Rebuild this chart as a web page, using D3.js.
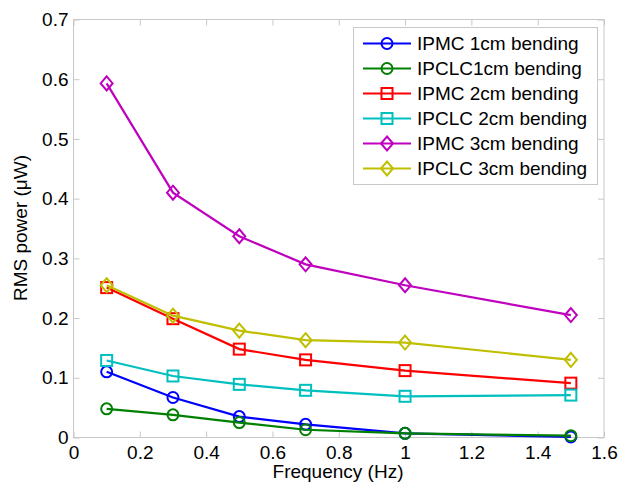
<!DOCTYPE html>
<html>
<meta charset="UTF-8">

<head>
  <script src="https://cdn.jsdelivr.net/npm/d3@7/dist/d3.min.js"></script>
  <style>
    body { margin: 0; background: #fff; }
    text { font-family: Arial, "Liberation Sans", sans-serif; fill: #000; }
  </style>
</head>

<body>
  <div id="viz">
    <svg style="width:625px;height:483px;"></svg>
  </div>

  <script type="text/javascript">
    const frequency = [0.1, 0.3, 0.5, 0.7, 1, 1.5]

    const seriesNames = ["IPMC 1cm bending", "IPCLC1cm bending", "IPMC 2cm bending",
      "IPCLC 2cm bending", "IPMC 3cm bending", "IPCLC 3cm bending"]

    const ipmc1 = [0.110, 0.067, 0.035, 0.022, 0.007, 0.001]
    const ipclc1 = [0.048, 0.038, 0.025, 0.013, 0.007, 0.003]
    const ipmc2 = [0.251, 0.199, 0.148, 0.130, 0.112, 0.091]
    const ipclc2 = [0.129, 0.103, 0.089, 0.079, 0.069, 0.071]
    const ipmc3 = [0.593, 0.410, 0.337, 0.290, 0.255, 0.205]
    const ipclc3 = [0.255, 0.204, 0.179, 0.163, 0.159, 0.130]

    const xTicks = [0, 0.2, 0.4, 0.6, 0.8, 1, 1.2, 1.4, 1.6]
    const yTicks = [0, 0.1, 0.2, 0.3, 0.4, 0.5, 0.6, 0.7]

    const colors = ["#0000ff", "#008000", "#ff0000", "#00bfbf", "#bf00bf", "#bfbf00"]
    const markers = ["circle", "circle", "square", "square", "diamond", "diamond"]

    const series = [ipmc1, ipclc1, ipmc2, ipclc2, ipmc3, ipclc3].map((vals, i) => ({
      name: seriesNames[i],
      color: colors[i],
      marker: markers[i],
      values: vals.map((v, j) => ({ x: frequency[j], y: v }))
    }))

    const plotL = 73.5, plotR = 604, plotT = 19.5, plotB = 437.5

    const x = d3.scaleLinear().domain([0, 1.6]).range([plotL, plotR])
    const y = d3.scaleLinear().domain([0, 0.7]).range([plotB, plotT])

    const svg = d3.select("svg")

    // box
    svg.append("rect")
      .attr("x", plotL).attr("y", plotT)
      .attr("width", plotR - plotL).attr("height", plotB - plotT)
      .style("fill", "white")
      .style("stroke", "#c8c8c8")
      .style("stroke-width", 1)

    const tickLen = 6
    const fontSize = 19

    const xAxis = svg.append("g").attr("transform", `translate(0,${plotB})`)
      .call(d3.axisBottom(x).tickValues(xTicks).tickSizeInner(-tickLen).tickSizeOuter(0)
        .tickPadding(8).tickFormat(d3.format("")))
    const xAxisTop = svg.append("g").attr("transform", `translate(0,${plotT})`)
      .call(d3.axisTop(x).tickValues(xTicks).tickSizeInner(-tickLen).tickSizeOuter(0)
        .tickFormat(""))
    const yAxis = svg.append("g").attr("transform", `translate(${plotL},0)`)
      .call(d3.axisLeft(y).tickValues(yTicks).tickSizeInner(-tickLen).tickSizeOuter(0)
        .tickPadding(5).tickFormat(d3.format("")))
    const yAxisRight = svg.append("g").attr("transform", `translate(${plotR},0)`)
      .call(d3.axisRight(y).tickValues(yTicks).tickSizeInner(-tickLen).tickSizeOuter(0)
        .tickFormat(""))

    for (const g of [xAxis, xAxisTop, yAxis, yAxisRight]) {
      g.select(".domain").remove()
      g.selectAll(".tick line").style("stroke", "#c8c8c8")
      g.selectAll(".tick text")
        .style("font-size", fontSize + "px")
        .style("font-family", "Arial, 'Liberation Sans', sans-serif")
        .attr("fill", "#000")
    }

    // axis labels
    svg.append("text")
      .attr("x", 338)
      .attr("y", 478)
      .style("text-anchor", "middle")
      .style("font-size", fontSize + "px")
      .text("Frequency (Hz)")

    svg.append("text")
      .attr("transform", `translate(27,228) rotate(-90)`)
      .style("text-anchor", "middle")
      .style("font-size", fontSize + "px")
      .text("RMS power (\u03bcW)")

    const line = d3.line().x(d => x(d.x)).y(d => y(d.y))

    function drawMarker(g, type, color) {
      if (type === "circle") {
        g.append("circle").attr("r", 5.5)
      } else if (type === "square") {
        g.append("rect").attr("x", -5.5).attr("y", -5.5).attr("width", 11).attr("height", 11)
      } else {
        g.append("path").attr("d", "M0,-7L6,0L0,7L-6,0Z")
      }
      g.selectAll("*")
        .style("fill", "none")
        .style("stroke", color)
        .style("stroke-width", 2)
    }

    const plot = svg.append("g")

    series.forEach(s => {
      const sg = plot.append("g")
      sg.append("path")
        .datum(s.values)
        .attr("d", line)
        .style("fill", "none")
        .style("stroke", s.color)
        .style("stroke-width", 2.2)
      sg.selectAll("g.pt")
        .data(s.values)
        .enter()
        .append("g")
        .attr("class", "pt")
        .attr("transform", d => `translate(${x(d.x)},${y(d.y)})`)
        .each(function () { drawMarker(d3.select(this), s.marker, s.color) })
    })

    // legend
    const legX = 353.5, legY = 27.5, legW = 244, legH = 157, rowH = 25
    const legend = svg.append("g")
    legend.append("rect")
      .attr("x", legX).attr("y", legY)
      .attr("width", legW).attr("height", legH)
      .style("fill", "white")
      .style("stroke", "#c8c8c8")
      .style("stroke-width", 1)

    series.forEach((s, i) => {
      const cy = legY + 16 + i * rowH
      const row = legend.append("g")
      row.append("line")
        .attr("x1", 363).attr("x2", 411)
        .attr("y1", cy).attr("y2", cy)
        .style("stroke", s.color)
        .style("stroke-width", 2.2)
      drawMarker(row.append("g").attr("transform", `translate(387,${cy})`), s.marker, s.color)
      row.append("text")
        .attr("x", 417)
        .attr("y", cy)
        .attr("dy", "0.35em")
        .style("font-size", "19px")
        .text(s.name)
    })

  </script>
</body>

</html>
